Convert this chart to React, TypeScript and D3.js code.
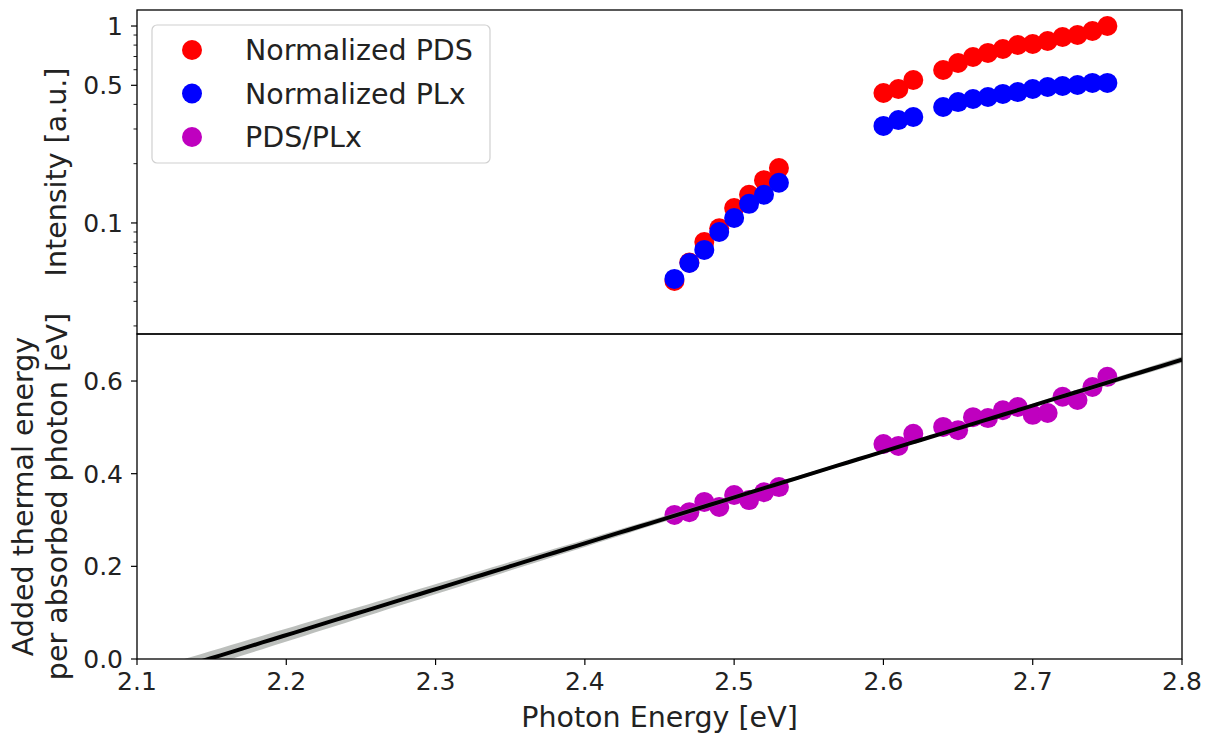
import React from "react";
import * as d3 from "d3";

const energy1 = [2.46, 2.47, 2.48, 2.49, 2.5, 2.51, 2.52, 2.53];
const energy2 = [2.6, 2.61, 2.62, 2.64, 2.65, 2.66, 2.67, 2.68, 2.69, 2.7, 2.71, 2.72, 2.73, 2.74, 2.75];
const energies = [...energy1, ...energy2];

const pdsValues = [0.0508, 0.063, 0.08, 0.094, 0.119, 0.139, 0.165, 0.19,
  0.457, 0.479, 0.532, 0.598, 0.649, 0.696, 0.73, 0.764, 0.801, 0.81, 0.839, 0.879, 0.9, 0.943, 1.0];
const plxValues = [0.052, 0.0626, 0.073, 0.09, 0.106, 0.125, 0.139, 0.16,
  0.311, 0.333, 0.345, 0.388, 0.411, 0.426, 0.436, 0.452, 0.462, 0.479, 0.49, 0.496, 0.502, 0.514, 0.514];
const ratioValues = [0.311, 0.317, 0.339, 0.328, 0.354, 0.343, 0.36, 0.371,
  0.464, 0.46, 0.486, 0.501, 0.494, 0.522, 0.52, 0.537, 0.544, 0.527, 0.531, 0.566, 0.559, 0.587, 0.609];

const xTicks = [2.1, 2.2, 2.3, 2.4, 2.5, 2.6, 2.7, 2.8];
const topMajorTicks = [0.1, 0.5, 1];
const topMinorTicks = [0.03, 0.04, 0.05, 0.06, 0.07, 0.08, 0.09, 0.2, 0.3, 0.4, 0.6, 0.7, 0.8, 0.9];
const bottomTicks = [0.0, 0.2, 0.4, 0.6];
const legendItems = [
  { label: "Normalized PDS", color: "#ff0000" },
  { label: "Normalized PLx", color: "#0000ff" },
  { label: "PDS/PLx", color: "#bf00bf" },
];

const W = 1207, H = 737;
const L = 137, R = 1182, T = 10, M = 334, B = 659;
const FONT = "'DejaVu Sans', sans-serif";

export default function App() {
  const x = d3.scaleLinear().domain([2.1, 2.8]).range([L, R]);
  const yTop = d3.scaleLog().domain([0.0273, 1.206]).range([M, T]);
  const yBot = d3.scaleLinear().domain([0, 0.7015]).range([B, M]);

  // least-squares fit with confidence band
  const n = energies.length;
  const xm = d3.mean(energies)!;
  const ym = d3.mean(ratioValues)!;
  const sxx = d3.sum(energies, (e) => (e - xm) ** 2);
  const sxy = d3.sum(energies, (e, i) => (e - xm) * (ratioValues[i] - ym));
  const slope = sxy / sxx;
  const icpt = ym - slope * xm;
  const resid = d3.sum(energies, (e, i) => (ratioValues[i] - (icpt + slope * e)) ** 2);
  const s = Math.sqrt(resid / (n - 2));
  const tval = 1.2;
  const grid = d3.range(0, 101).map((i) => 2.1 + (0.7 * i) / 100);
  const band = grid.map((g) => {
    const yh = icpt + slope * g;
    const hw = tval * s * Math.sqrt(1 / n + (g - xm) ** 2 / sxx);
    return { g, lo: yh - hw, hi: yh + hw, yh };
  });
  const area = d3.area<any>().x((d) => x(d.g)).y0((d) => yBot(d.lo)).y1((d) => yBot(d.hi));
  const line = d3.line<any>().x((d) => x(d.g)).y((d) => yBot(d.yh));

  const r = 10;
  return (
    <svg width={W} height={H} style={{ position: "absolute", left: 0, top: 0, background: "#fff" }} fontFamily={FONT}>
      <defs>
        <clipPath id="clipBot">
          <rect x={L} y={M} width={R - L} height={B - M} />
        </clipPath>
      </defs>
      {/* top panel points */}
      <g>
        {energies.map((e, i) => (
          <circle key={"p" + i} cx={x(e)} cy={yTop(pdsValues[i])} r={r} fill="#ff0000" />
        ))}
        {energies.map((e, i) => (
          <circle key={"b" + i} cx={x(e)} cy={yTop(plxValues[i])} r={r} fill="#0000ff" />
        ))}
      </g>
      {/* bottom panel */}
      <g clipPath="url(#clipBot)">
        {energies.map((e, i) => (
          <circle key={"m" + i} cx={x(e)} cy={yBot(ratioValues[i])} r={r} fill="#bf00bf" />
        ))}
        <path d={area(band)!} fill="#8f9590" opacity={0.6} />
        <path d={line(band)!} fill="none" stroke="#000" strokeWidth={4} />
      </g>
      {/* frames */}
      <rect x={L} y={T} width={R - L} height={M - T} fill="none" stroke="#000" strokeWidth={1.3} />
      <rect x={L} y={M} width={R - L} height={B - M} fill="none" stroke="#000" strokeWidth={1.3} />
      {/* top y ticks */}
      {topMajorTicks.map((t) => (
        <g key={"tm" + t}>
          <line x1={L - 6} x2={L} y1={yTop(t)} y2={yTop(t)} stroke="#000" strokeWidth={1.2} />
          <text x={L - 14} y={yTop(t)} dy="0.36em" textAnchor="end" fontSize={25} fill="#222">{String(t)}</text>
        </g>
      ))}
      {topMinorTicks.map((t) => (
        <line key={"tn" + t} x1={L - 3.5} x2={L} y1={yTop(t)} y2={yTop(t)} stroke="#000" strokeWidth={0.9} />
      ))}
      {/* bottom y ticks */}
      {bottomTicks.map((t) => (
        <g key={"bt" + t}>
          <line x1={L - 6} x2={L} y1={yBot(t)} y2={yBot(t)} stroke="#000" strokeWidth={1.2} />
          <text x={L - 14} y={yBot(t)} dy="0.36em" textAnchor="end" fontSize={25} fill="#222">{t.toFixed(1)}</text>
        </g>
      ))}
      {/* x ticks */}
      {xTicks.map((t) => (
        <g key={"xt" + t}>
          <line x1={x(t)} x2={x(t)} y1={B} y2={B + 6} stroke="#000" strokeWidth={1.2} />
          <text x={x(t)} y={B + 31} textAnchor="middle" fontSize={25} fill="#222">{t.toFixed(1)}</text>
        </g>
      ))}
      {/* axis labels */}
      <text x={(L + R) / 2} y={727} textAnchor="middle" fontSize={28.5} fill="#222">Photon Energy [eV]</text>
      <text transform={`translate(66,${(T + M) / 2}) rotate(-90)`} textAnchor="middle" fontSize={28.5} fill="#222">Intensity [a.u.]</text>
      <text transform={`translate(33,${(M + B) / 2}) rotate(-90)`} textAnchor="middle" fontSize={28.5} fill="#222">Added thermal energy</text>
      <text transform={`translate(67,${(M + B) / 2}) rotate(-90)`} textAnchor="middle" fontSize={28.5} fill="#222">per absorbed photon [eV]</text>
      {/* legend */}
      <rect x={152} y={25} width={338} height={138} rx={5} fill="#fff" fillOpacity={0.8} stroke="#d0d0d0" strokeWidth={1.2} />
      {legendItems.map((it, i) => (
        <g key={it.label}>
          <circle cx={192} cy={50 + i * 43.5} r={r} fill={it.color} />
          <text x={245} y={50 + i * 43.5} dy="0.36em" fontSize={28.5} fill="#222">{it.label}</text>
        </g>
      ))}
    </svg>
  );
}
